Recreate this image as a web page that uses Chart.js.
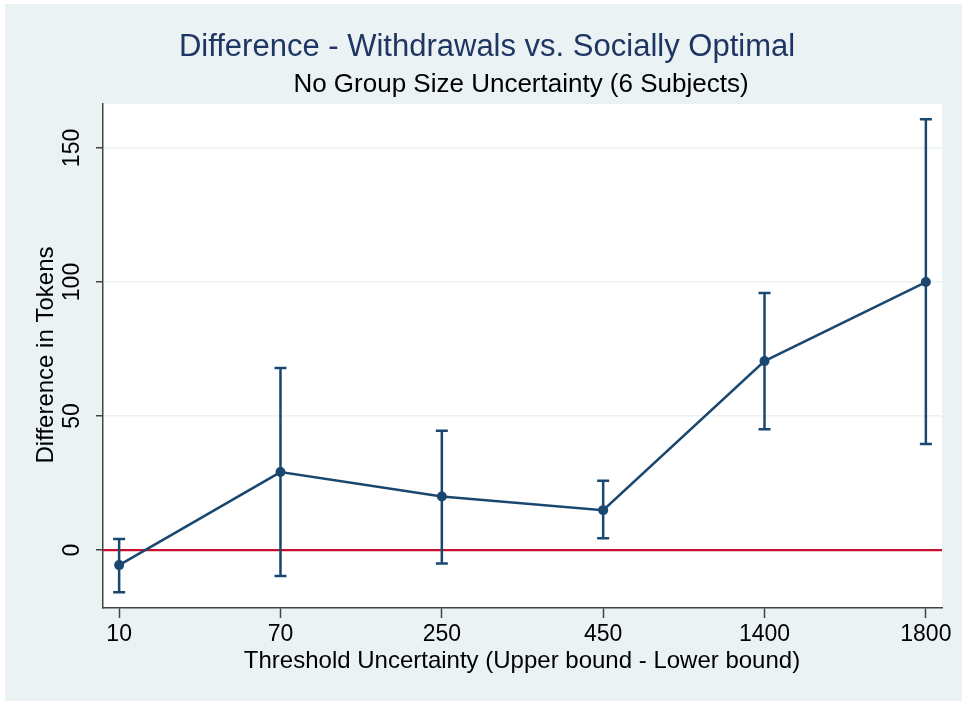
<!DOCTYPE html>
<html>
<head>
<meta charset="utf-8">
<script src="https://cdn.jsdelivr.net/npm/chart.js@4/dist/chart.umd.min.js"></script>
<style>
  body { margin: 0; background: #fff; }
  canvas { display: block; }
</style>
</head>
<body>
<canvas id="chart" width="962" height="701"></canvas>
<script>
// data
const categories = ['10', '70', '250', '450', '1400', '1800'];
const meanDiff = [-5.6, 29.1, 20.0, 14.9, 70.5, 100.0];
const ciUpper = [4.1, 67.9, 44.5, 25.9, 95.9, 160.7];
const ciLower = [-15.7, -9.7, -5.0, 4.4, 45.1, 39.6];
const yTicks = [0, 50, 100, 150];

const navy = '#1A476F';
const FONT = '"Liberation Sans", Arial, sans-serif';

// outer background, plot region and texts
const frame = {
  id: 'frame',
  beforeDraw(chart) {
    const { ctx, chartArea: a } = chart;
    ctx.save();
    ctx.fillStyle = '#EAF2F3';
    ctx.fillRect(5, 4, chart.width - 5, chart.height - 4);
    ctx.fillStyle = '#ffffff';
    ctx.fillRect(a.left, a.top, a.right - a.left, a.bottom - a.top);
    ctx.restore();
  },
  beforeDatasetsDraw(chart) {
    // red reference line at zero
    const { ctx, chartArea: a, scales: { y } } = chart;
    const py = y.getPixelForValue(0);
    ctx.save();
    ctx.strokeStyle = '#C8102E';
    ctx.lineWidth = 2.2;
    ctx.beginPath();
    ctx.moveTo(a.left, py);
    ctx.lineTo(a.right, py);
    ctx.stroke();
    ctx.restore();
  },
  afterDatasetsDraw(chart) {
    // error bars
    const { ctx, scales: { x, y } } = chart;
    ctx.save();
    ctx.strokeStyle = navy;
    ctx.lineWidth = 2.5;
    categories.forEach((c, i) => {
      const px = x.getPixelForValue(i);
      const hi = y.getPixelForValue(ciUpper[i]);
      const lo = y.getPixelForValue(ciLower[i]);
      ctx.beginPath();
      ctx.moveTo(px, hi); ctx.lineTo(px, lo);
      ctx.moveTo(px - 6, hi); ctx.lineTo(px + 6, hi);
      ctx.moveTo(px - 6, lo); ctx.lineTo(px + 6, lo);
      ctx.stroke();
    });
    ctx.restore();
  },
  afterDraw(chart) {
    const { ctx, scales: { y } } = chart;
    ctx.save();
    ctx.textAlign = 'center';
    ctx.textBaseline = 'middle';
    ctx.fillStyle = '#1F3563';
    ctx.font = '31px ' + FONT;
    ctx.fillText('Difference - Withdrawals vs. Socially Optimal', 487, 47);
    ctx.fillStyle = '#000';
    ctx.font = '26px ' + FONT;
    ctx.fillText('No Group Size Uncertainty (6 Subjects)', 521, 85);
    ctx.font = '24px ' + FONT;
    ctx.fillText('Threshold Uncertainty (Upper bound - Lower bound)', 522, 661);
    // rotated y tick labels and title
    ctx.font = '23px ' + FONT;
    yTicks.forEach(v => {
      ctx.save();
      ctx.translate(73, y.getPixelForValue(v));
      ctx.rotate(-Math.PI / 2);
      ctx.fillText(String(v), 0, 0);
      ctx.restore();
    });
    ctx.font = '24px ' + FONT;
    ctx.save();
    ctx.translate(46, 355);
    ctx.rotate(-Math.PI / 2);
    ctx.fillText('Difference in Tokens', 0, 0);
    ctx.restore();
    ctx.restore();
  }
};

new Chart(document.getElementById('chart'), {
  type: 'line',
  data: {
    datasets: [{
      data: meanDiff.map((v, i) => ({ x: i, y: v })),
      borderColor: navy,
      backgroundColor: navy,
      borderWidth: 2.5,
      pointRadius: 5,
      pointHoverRadius: 5,
      pointBorderWidth: 0,
      tension: 0
    }]
  },
  options: {
    responsive: false,
    animation: false,
    layout: { padding: { top: 104, right: 20, left: 0, bottom: 0 } },
    plugins: { legend: { display: false }, tooltip: { enabled: false } },
    scales: {
      x: {
        type: 'linear',
        min: -0.1,
        max: 5.1,
        afterBuildTicks: s => { s.ticks = categories.map((c, i) => ({ value: i })); },
        afterFit: s => { s.height = 93; },
        ticks: {
          callback: v => categories[v],
          color: '#000',
          font: { family: FONT, size: 23 },
          padding: 3,
          maxRotation: 0
        },
        grid: { drawOnChartArea: false, drawTicks: true, tickLength: 10, tickColor: '#444', tickWidth: 1.5 },
        border: { color: '#444', width: 1.5 }
      },
      y: {
        min: -21.6,
        max: 166.4,
        afterBuildTicks: s => { s.ticks = yTicks.map(v => ({ value: v })); },
        afterFit: s => { s.width = 103; },
        ticks: { display: false },
        grid: { color: '#EAF2F3', lineWidth: 1.5, drawTicks: true, tickLength: 7, tickColor: '#444', tickWidth: 1.5 },
        border: { color: '#444', width: 1.5 }
      }
    }
  },
  plugins: [frame]
});
</script>
</body>
</html>
